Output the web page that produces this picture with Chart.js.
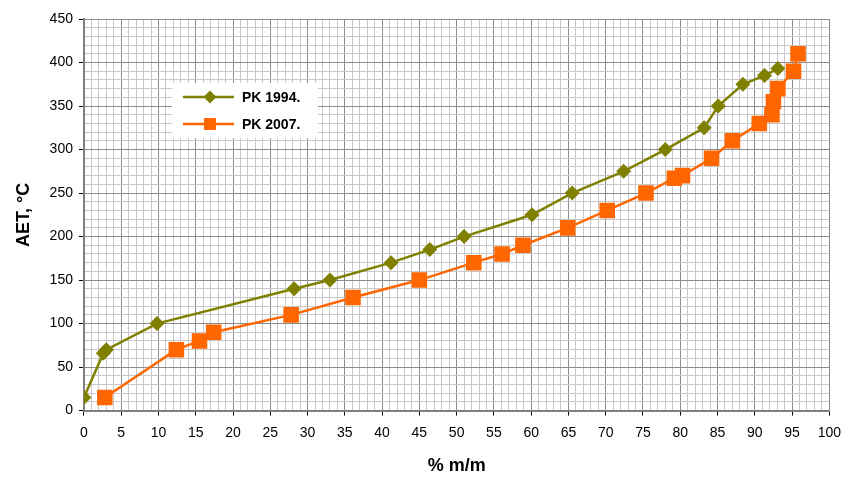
<!DOCTYPE html>
<html>
<head>
<meta charset="utf-8">
<script src="https://cdn.jsdelivr.net/npm/chart.js@4/dist/chart.umd.min.js"></script>
<style>
  html, body { margin: 0; padding: 0; background: #fff; }
  #wrap { width: 850px; height: 477px; }
</style>
</head>
<body>
<div id="wrap"><canvas id="c" width="850" height="477"></canvas></div>
<script>
// Distillation curves: recovered share (% m/m) versus temperature (°C)
const seriesNames = ['PK 1994.', 'PK 2007.'];

const pk1994Mass = [0, 2.6, 3.0, 9.8, 28.2, 33.0, 41.2, 46.4, 51.0, 60.1, 65.5, 72.4, 78.0, 83.2, 85.1, 88.4, 91.3, 93.1];
const pk1994Temp = [15, 66, 70, 100, 140, 150, 170, 185, 200, 225, 250, 275, 300, 325, 350, 375, 385, 393];

const pk2007Mass = [2.8, 12.4, 15.5, 17.4, 27.8, 36.1, 45.0, 52.3, 56.1, 58.9, 64.9, 70.2, 75.4, 79.2, 80.3, 84.2, 87.0, 90.6, 92.3, 92.5, 93.1, 95.2, 95.8];
const pk2007Temp = [15, 70, 80, 90, 110, 130, 150, 170, 180, 190, 210, 230, 250, 267, 270, 290, 310, 330, 340, 355, 370, 390, 410];

const xTickStep = 5;   // labelled every 5 % m/m
const yTickStep = 50;  // labelled every 50 °C

const olive = '#808000';
const orange = '#FF6600';

function toPoints(xs, ys) {
  return xs.map((x, i) => ({ x: x, y: ys[i] }));
}

const isMajor = (v, step) => Math.abs(v / step - Math.round(v / step)) < 1e-6;

// Legend box drawn inside the plotting area
const insideLegend = {
  id: 'insideLegend',
  afterDatasetsDraw(chart) {
    const { ctx, chartArea } = chart;
    const left = chartArea.left + 88;
    const top = chartArea.top + 64;
    const w = 146, h = 55;
    ctx.save();
    ctx.fillStyle = '#ffffff';
    ctx.fillRect(left, top, w, h);
    chart.data.datasets.forEach((ds, i) => {
      const y = top + 14 + i * 27;
      ctx.strokeStyle = ds.borderColor;
      ctx.lineWidth = 2.5;
      ctx.beginPath();
      ctx.moveTo(left + 11, y);
      ctx.lineTo(left + 62, y);
      ctx.stroke();
      ctx.fillStyle = ds.backgroundColor;
      ctx.beginPath();
      if (ds.pointStyle === 'rect') {
        ctx.rect(left + 32, y - 6, 12, 12);
      } else {
        ctx.moveTo(left + 38, y - 6.5);
        ctx.lineTo(left + 44.5, y);
        ctx.lineTo(left + 38, y + 6.5);
        ctx.lineTo(left + 31.5, y);
        ctx.closePath();
      }
      ctx.fill();
      ctx.fillStyle = '#000';
      ctx.font = 'bold 14px "Liberation Sans", Arial, sans-serif';
      ctx.textBaseline = 'middle';
      ctx.textAlign = 'left';
      ctx.fillText(ds.label, left + 70, y + 1);
    });
    ctx.restore();
  }
};

const tickFont = { family: '"Liberation Sans", Arial, sans-serif', size: 14 };
const titleFont = { family: '"Liberation Sans", Arial, sans-serif', size: 18, weight: 'bold' };

new Chart(document.getElementById('c'), {
  type: 'scatter',
  data: {
    datasets: [
      {
        label: seriesNames[0],
        data: toPoints(pk1994Mass, pk1994Temp),
        showLine: true,
        borderColor: olive,
        backgroundColor: olive,
        borderWidth: 2.5,
        pointStyle: 'rectRot',
        pointRadius: 7.5,
        pointHoverRadius: 7.5,
        pointBorderWidth: 0,
        tension: 0
      },
      {
        label: seriesNames[1],
        data: toPoints(pk2007Mass, pk2007Temp),
        showLine: true,
        borderColor: orange,
        backgroundColor: orange,
        borderWidth: 2.5,
        pointStyle: 'rect',
        pointRadius: 11,
        pointHoverRadius: 11,
        pointBorderWidth: 0,
        tension: 0
      }
    ]
  },
  options: {
    responsive: false,
    animation: false,
    devicePixelRatio: 1,
    layout: { padding: { left: 13, right: 20, top: 19, bottom: 0 } },
    plugins: {
      legend: { display: false },
      tooltip: { enabled: false }
    },
    scales: {
      x: {
        type: 'linear',
        min: 0,
        max: 100,
        ticks: {
          stepSize: 1,
          autoSkip: false,
          maxRotation: 0,
          color: '#000',
          font: tickFont,
          padding: 9,
          callback: (v) => isMajor(v, xTickStep) ? String(v) : ''
        },
        grid: {
          color: (c) => isMajor(c.tick.value, xTickStep) ? '#8c8c8c' : '#c8c8c8',
          tickColor: (c) => isMajor(c.tick.value, xTickStep) ? '#000' : 'rgba(0,0,0,0)',
          tickLength: 5,
          lineWidth: 1
        },
        border: { color: '#808080', width: 2 },
        title: { display: true, text: '% m/m', color: '#000', font: titleFont, padding: { top: 5, bottom: 0 } }
      },
      y: {
        type: 'linear',
        min: 0,
        max: 450,
        ticks: {
          stepSize: 10,
          autoSkip: false,
          color: '#000',
          font: tickFont,
          padding: 6,
          callback: (v) => isMajor(v, yTickStep) ? String(v) : ''
        },
        grid: {
          color: (c) => isMajor(c.tick.value, yTickStep) ? '#8c8c8c' : '#c8c8c8',
          tickColor: (c) => isMajor(c.tick.value, yTickStep) ? '#000' : 'rgba(0,0,0,0)',
          tickLength: 5,
          lineWidth: 1
        },
        border: { color: '#808080', width: 2 },
        title: { display: true, text: 'AET, °C', color: '#000', font: titleFont, padding: { top: 0, bottom: 9 } }
      }
    }
  },
  plugins: [insideLegend]
});
</script>
</body>
</html>
